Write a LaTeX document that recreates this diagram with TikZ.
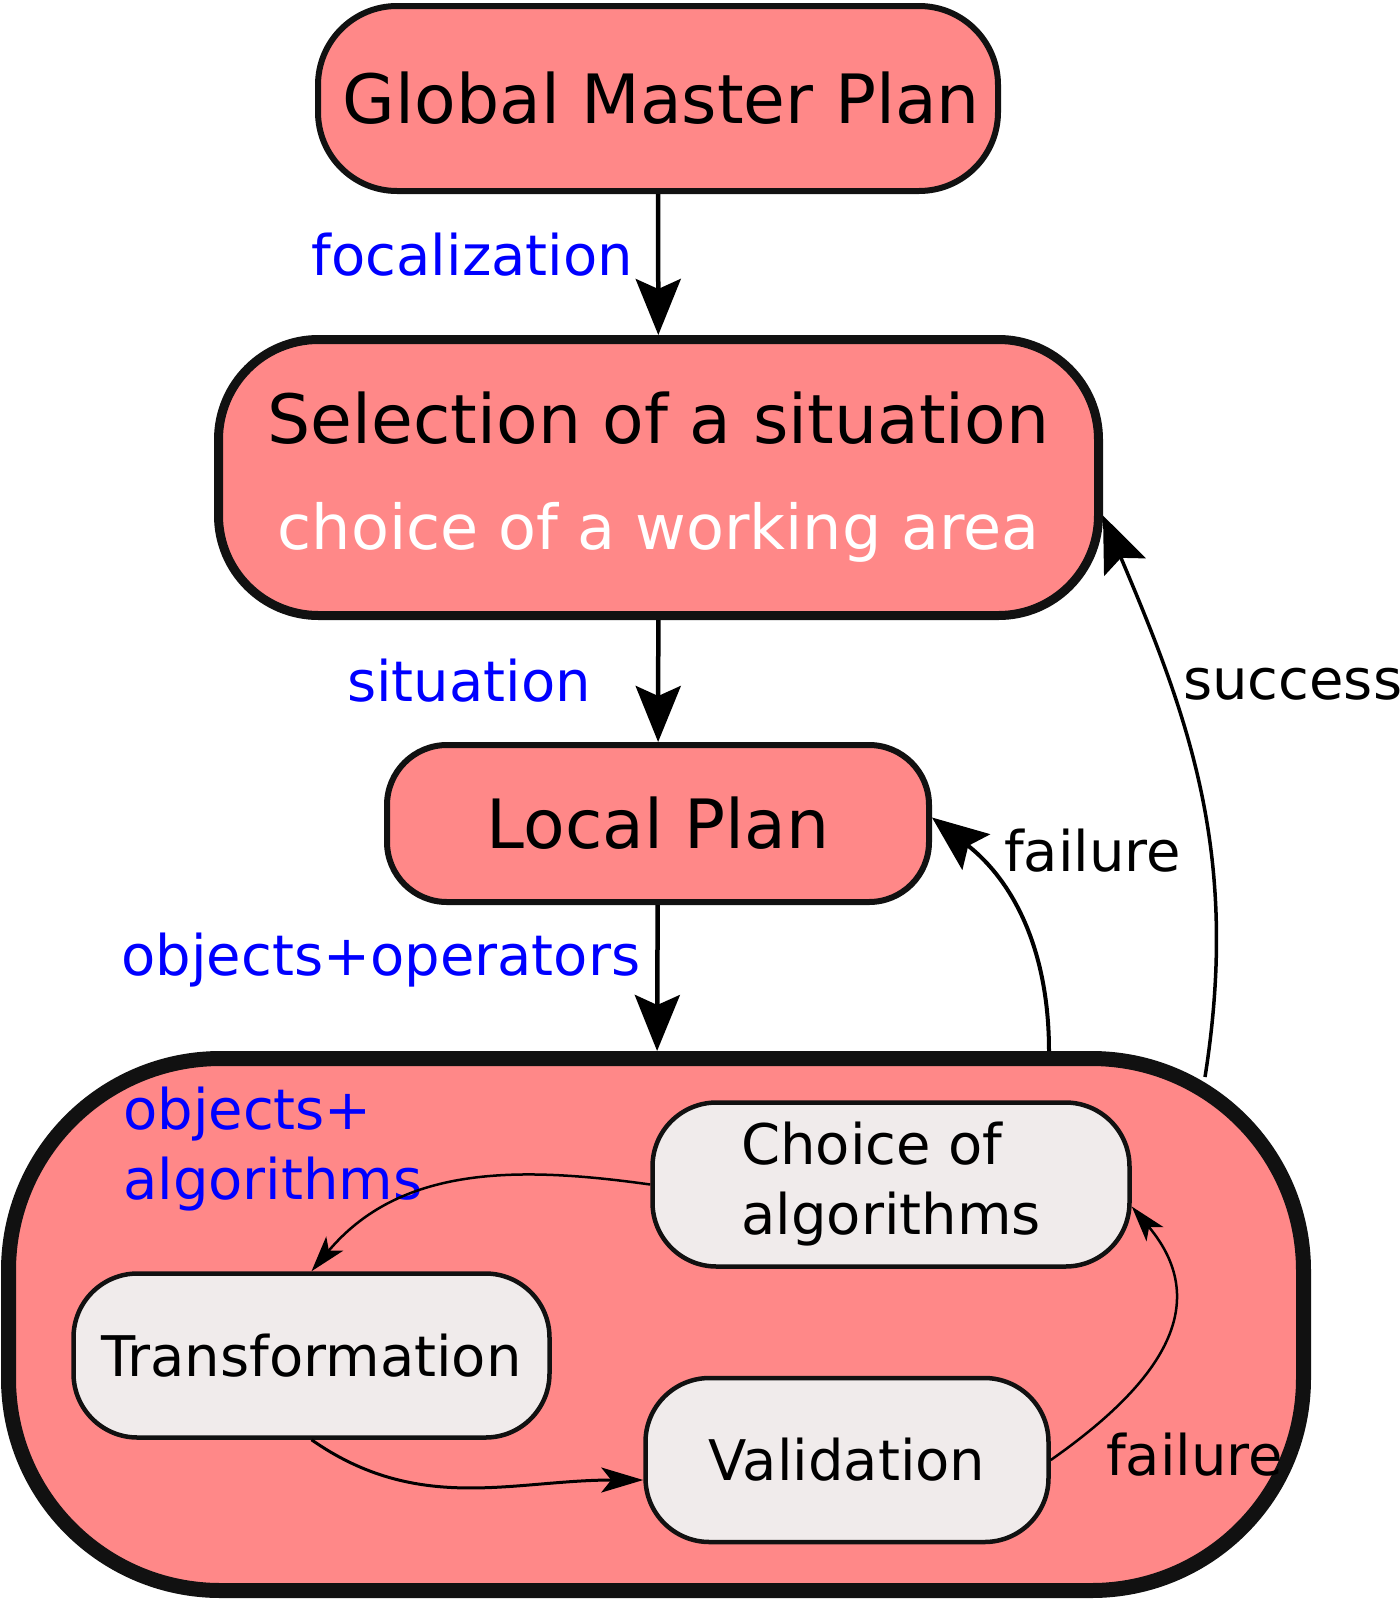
\documentclass[tikz,border=0pt]{standalone}
\usepackage{fontspec}
\setmainfont{DejaVu Sans}
\usetikzlibrary{arrows.meta}
\definecolor{planpink}{RGB}{255,136,136}
\definecolor{algogrey}{RGB}{240,235,235}
\definecolor{rimblack}{RGB}{17,17,17}
\newcommand{\plantitle}{\fontsize{68}{110}\selectfont}
\newcommand{\planlabel}{\fontsize{56}{70}\selectfont}
\begin{document}
\begin{tikzpicture}[x=1pt,y=1pt,
    plan/.style={draw=rimblack, fill=planpink, line width=6pt, font=\plantitle},
    algo/.style={draw=rimblack, fill=algogrey, line width=4.5pt, rounded corners=64pt,
      minimum height=164pt, font=\planlabel},
    flow/.style={-{Stealth[length=56pt,width=45pt,inset=10pt]}, line width=4.5pt},
    loopback/.style={-{Stealth[length=36pt,width=22pt,inset=9pt]}, line width=2.5pt},
    lbl/.style={inner sep=0pt, font=\planlabel}]
    \useasboundingbox (0,0) rectangle (1400,-1601);
    % Plans
    \node[plan, rounded corners=79pt, minimum width=680pt, minimum height=185pt] (gmp) at (658,-98.5) {\hspace*{7pt}Global Master Plan};
    \node[plan, line width=9pt, rounded corners=100pt, minimum width=880pt, minimum height=276pt, align=center] (sel) at (658.5,-477.5)
      {Selection of a situation\\[-4pt]{\color{white}\fontsize{62}{73}\selectfont choice of a working area}};
    \node[plan, rounded corners=60pt, minimum width=542pt, minimum height=157pt] (lp) at (658,-823.5) {Local Plan};
    \node[plan, line width=15pt, rounded corners=212pt, minimum width=1295pt, minimum height=532pt] (big) at (656,-1324.5) {};
    % Algorithms loop
    \node[algo, minimum width=477pt, align=left] (choice) at (891,-1184.5) {Choice of\\algorithms};
    \node[algo, minimum width=476pt] (trans) at (311.5,-1355.5) {Transformation};
    \node[algo, minimum width=403pt] (val) at (847,-1460) {Validation};
    \node[lbl, text=blue, align=left, anchor=west] (objalg) at (123,-1149) {objects+\\algorithms};
    % Down the plans
    \draw[flow] (gmp) -- (sel) node[pos=0.43, left=23pt, lbl, text=blue] (focal) {focalization};
    \draw[flow] (sel) -- (lp) node[midway, left=65pt, lbl, text=blue] (situ) {situation};
    \draw[flow] (lp) -- (big) node[pos=0.38, left=15pt, lbl, text=blue] (objop) {objects+operators};
    % Back up
    \draw[flow, line width=4pt] ([xshift=393pt]big.north) to[out=90, in=-38] ([yshift=6pt]lp.east);
    \node[lbl, anchor=west] (fail) at (1004,-851) {failure};
    \draw[flow, line width=3.5pt] ([xshift=-106pt,yshift=-26pt]big.north east) to[out=81, in=-67] ([yshift=-38pt]sel.east);
    \node[lbl, anchor=west] (succ) at (1183,-684) {success};
    % Inside the loop
    \draw[loopback] (choice.west) to[out=172, in=50] (trans.north);
    \draw[loopback, line width=3pt, -{Stealth[length=42pt,width=25pt,inset=10pt]}] (trans.south) to[out=-35, in=180] ([yshift=-20pt]val.west);
    \draw[loopback] (val.east) to[out=35, in=-50, looseness=1.25] ([yshift=-22pt]choice.east);
    \node[lbl, anchor=west] (failin) at (1106,-1455) {failure};
\end{tikzpicture}
\end{document}
